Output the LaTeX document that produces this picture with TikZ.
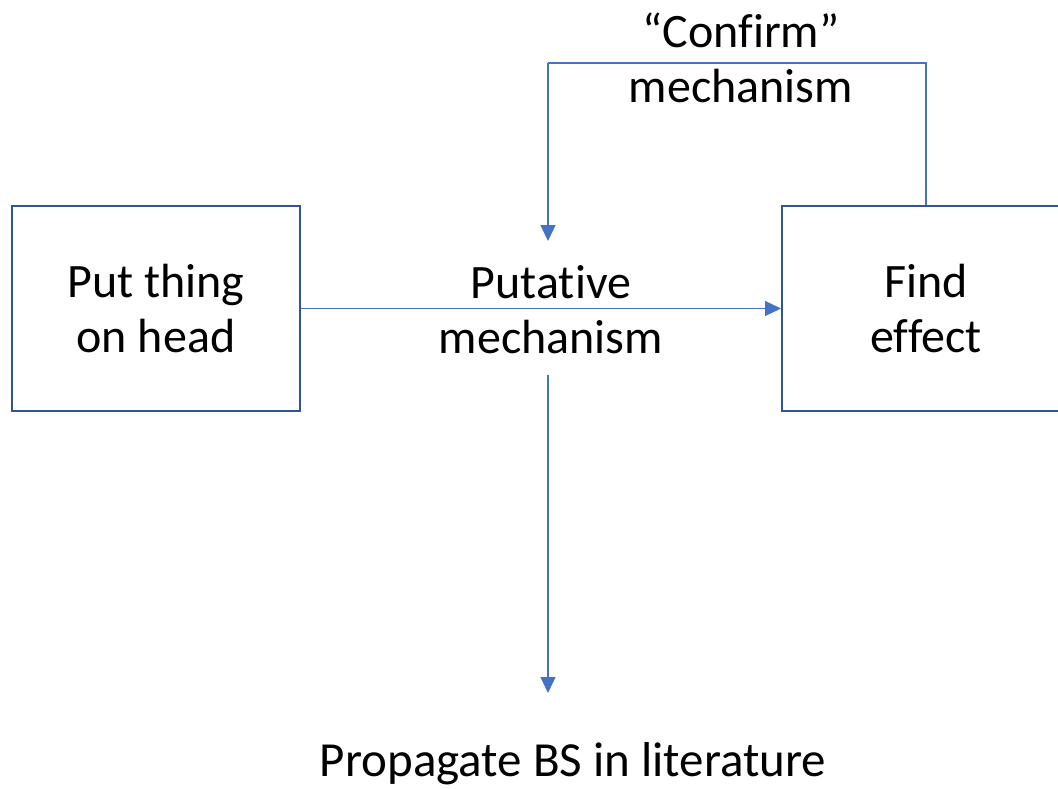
\documentclass[tikz,border=0pt]{standalone}
\usepackage{fontspec}
\setmainfont[Ligatures=NoCommon]{Carlito}
\usetikzlibrary{arrows.meta}
\definecolor{boxblue}{HTML}{2F5597}
\definecolor{linkblue}{HTML}{4472C4}
\tikzset{
  x=1pt, y=-1pt,
  stepbox/.style={draw=boxblue, line width=2pt, minimum width=288pt, minimum height=205pt, inner sep=0pt, fill=white},
  lbl/.style={font=\fontsize{48}{55}\selectfont, align=center, text=black, inner sep=0pt},
  link/.style={draw=linkblue, line width=1.3pt, -{Triangle[length=16pt, width=15pt]}},
  plain/.style={draw=linkblue, line width=1.3pt}
}
\begin{document}
\begin{tikzpicture}
\useasboundingbox (0,0) rectangle (1058,788);
\begin{scope}
\clip (0,0) rectangle (1058,788);
\node[stepbox] (put) at (156,308.5) {};
\node[stepbox] (find) at (926,308.5) {};
\node[lbl] at (put.center) {Put thing\\on head};
\node[lbl] at (find.center) {Find\\effect};
\node[lbl] (mech) at (551,310) {Putative\\mechanism};
\node[lbl] (confirm) at (741,58) {“Confirm”\\mechanism};
\node[lbl, font=\fontsize{49}{55}\selectfont] (bs) at (573,764) {Propagate BS in literature};
\coordinate (tr) at (926,63);
\coordinate (tl) at (548,63);
\coordinate (mtop) at (548,241);
\coordinate (mbot) at (548,375);
\coordinate (bstop) at (548,693);
\draw[link] (put.east) -- (find.west);
\draw[plain] (find.north) -- (tr) -- (tl);
\draw[link] (tl) -- (mtop);
\draw[link] (mbot) -- (bstop);
\end{scope}
\end{tikzpicture}
\end{document}
